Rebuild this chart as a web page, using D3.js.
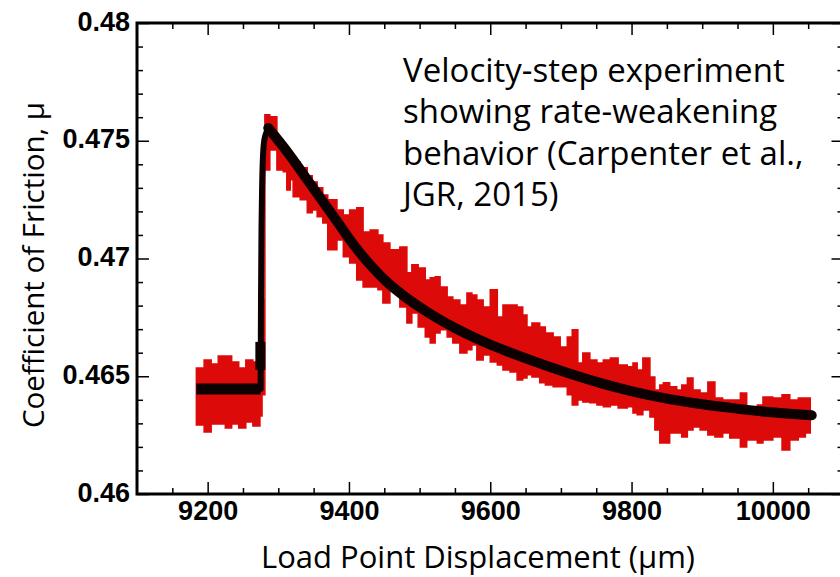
<!DOCTYPE html>
<html>
<head>
<meta charset="utf-8">
<script src="https://cdn.jsdelivr.net/npm/d3@7"></script>
<style>
  body { margin: 0; background: #fff; }
  svg { display: block; }
</style>
</head>
<body>
<svg></svg>
<script>
const width = 840;
const height = 577;
const frame = { left: 137, top: 23, bottom: 494, right: 843.5 };

// measured friction (red), sampled as upper / lower envelope of the noisy record
const redX = [
  9184, 9195, 9205, 9215, 9225, 9234, 9244, 9254, 9264, 9274,
  9277, 9281, 9288, 9298, 9307, 9312, 9317, 9321, 9331, 9341,
  9348, 9355, 9363, 9370, 9383, 9392, 9401, 9411, 9420, 9430,
  9441, 9448, 9458, 9472, 9482, 9489, 9498, 9508, 9515, 9522,
  9529, 9539, 9547, 9557, 9567, 9574, 9581, 9590, 9600, 9610,
  9618, 9628, 9638, 9646, 9652, 9659, 9670, 9678, 9689, 9699,
  9709, 9716, 9724, 9731, 9741, 9751, 9760, 9770, 9781, 9794,
  9802, 9808, 9816, 9826, 9833, 9840, 9845, 9854, 9864, 9871,
  9879, 9887, 9897, 9908, 9918, 9929, 9939, 9954, 9963, 9978,
  9986, 10000, 10013, 10024, 10036, 10046, 10053
];
const redHi = [
  0.46535, 0.46569, 0.46552, 0.46586, 0.46586, 0.46561, 0.46535, 0.46569, 0.46561, 0.46561,
  0.46824, 0.47610, 0.47602, 0.47504, 0.47461, 0.47440, 0.47427, 0.47410, 0.47385, 0.47351,
  0.47325, 0.47300, 0.47270, 0.47249, 0.47206, 0.47185, 0.47206, 0.47215, 0.47113, 0.47121,
  0.47100, 0.47066, 0.47037, 0.47049, 0.46939, 0.46973, 0.46960, 0.46909, 0.46918, 0.46922,
  0.46879, 0.46837, 0.46824, 0.46803, 0.46854, 0.46845, 0.46824, 0.46794, 0.46867, 0.46752,
  0.46803, 0.46803, 0.46794, 0.46760, 0.46709, 0.46726, 0.46709, 0.46684, 0.46667, 0.46624,
  0.46667, 0.46697, 0.46556, 0.46599, 0.46569, 0.46556, 0.46569, 0.46578, 0.46548, 0.46540,
  0.46556, 0.46527, 0.46578, 0.46497, 0.46442, 0.46463, 0.46472, 0.46455, 0.46442, 0.46463,
  0.46493, 0.46442, 0.46429, 0.46476, 0.46408, 0.46399, 0.46399, 0.46429, 0.46357, 0.46378,
  0.46412, 0.46408, 0.46421, 0.46399, 0.46408, 0.46408, 0.46357
];
const redLo = [
  0.46293, 0.46263, 0.46297, 0.46297, 0.46280, 0.46297, 0.46280, 0.46306, 0.46289, 0.46331,
  0.46421, 0.47376, 0.47461, 0.47376, 0.47368, 0.47291, 0.47334, 0.47262, 0.47249, 0.47194,
  0.47206, 0.47177, 0.47151, 0.47037, 0.47079, 0.47007, 0.46981, 0.46909, 0.46879, 0.46879,
  0.46867, 0.46811, 0.46867, 0.46794, 0.46726, 0.46769, 0.46709, 0.46667, 0.46641, 0.46684,
  0.46697, 0.46667, 0.46641, 0.46599, 0.46612, 0.46633, 0.46569, 0.46590, 0.46561, 0.46548,
  0.46527, 0.46518, 0.46484, 0.46493, 0.46506, 0.46497, 0.46472, 0.46463, 0.46455, 0.46455,
  0.46421, 0.46378, 0.46399, 0.46391, 0.46387, 0.46378, 0.46370, 0.46378, 0.46365, 0.46370,
  0.46344, 0.46336, 0.46357, 0.46327, 0.46272, 0.46217, 0.46217, 0.46259, 0.46259, 0.46242,
  0.46272, 0.46285, 0.46272, 0.46251, 0.46242, 0.46259, 0.46238, 0.46200, 0.46229, 0.46217,
  0.46229, 0.46242, 0.46187, 0.46229, 0.46242, 0.46259, 0.46272
];

// rate-state model fit (black), in three pieces
const fitFlatX = [9184, 9275];
const fitFlatY = [0.46446, 0.46446];
const fitRiseX = [9275, 9275.5, 9276.2, 9277, 9278.8, 9281.2, 9285.8];
const fitRiseY = [0.46446, 0.46824, 0.47121, 0.47291, 0.47461, 0.47517, 0.47554];
const fitDecayX = [9285.8, 9314.2, 9337.8, 9361.4, 9384.9, 9408.6, 9432.2, 9455.7, 9479.3, 9503,
  9526.5, 9550, 9573.7, 9597.3, 9621, 9644.5, 9708.6, 9755.3, 9797.8, 9844.5, 9892.6, 9939.3, 9986.1, 10055];
const fitDecayY = [0.47554, 0.47447, 0.47348, 0.47249, 0.47150, 0.47051, 0.46966, 0.46895, 0.46838, 0.46788,
  0.46744, 0.46705, 0.46670, 0.46638, 0.46609, 0.46582, 0.46515, 0.46472, 0.46438, 0.46408, 0.46384, 0.46366, 0.46350, 0.46334];
// short thick piece at the step
const fitStepX = [9274.6, 9274.6];
const fitStepY = [0.46527, 0.46646];

const xTickValues = [9200, 9400, 9600, 9800, 10000];
const yTickValues = [0.46, 0.465, 0.47, 0.475, 0.48];
const annotationLines = [
  "Velocity-step experiment",
  "showing rate-weakening",
  "behavior (Carpenter et al.,",
  "JGR, 2015)"
];

const svg = d3.select("svg").attr("width", width).attr("height", height);

const x = d3.scaleLinear().domain([9100, 10100]).range([frame.left, frame.right]);
const y = d3.scaleLinear().domain([0.46, 0.48]).range([frame.bottom, frame.top]);

const zip = (xs, ys) => xs.map((v, i) => [v, ys[i]]);

// red measured data
const redData = redX.map((v, i) => ({ x: v, hi: redHi[i], lo: redLo[i] }));
const area = d3.area()
  .curve(d3.curveStepAfter)
  .x((d) => x(d.x))
  .y0((d) => y(d.lo))
  .y1((d) => y(d.hi));

svg.append("path")
  .datum(redData)
  .attr("d", area)
  .attr("fill", "#dd0a0a")
  .attr("stroke", "#dd0a0a")
  .attr("stroke-width", 1.5)
  .attr("stroke-linejoin", "miter");

// black fit
const line = d3.line().x((d) => x(d[0])).y((d) => y(d[1]));
const fitColor = "#0c0000";

svg.append("path")
  .attr("d", line(zip(fitFlatX, fitFlatY)))
  .attr("fill", "none").attr("stroke", fitColor).attr("stroke-width", 11);

svg.append("path")
  .attr("d", line.curve(d3.curveMonotoneY)(zip(fitRiseX, fitRiseY)))
  .attr("fill", "none").attr("stroke", fitColor).attr("stroke-width", 6)
  .attr("stroke-linecap", "round");

svg.append("path")
  .attr("d", line.curve(d3.curveLinear)(zip(fitStepX, fitStepY)))
  .attr("fill", "none").attr("stroke", fitColor).attr("stroke-width", 10);

svg.append("path")
  .attr("d", line.curve(d3.curveMonotoneX)(zip(fitDecayX, fitDecayY)))
  .attr("fill", "none").attr("stroke", fitColor).attr("stroke-width", 10)
  .attr("stroke-linecap", "round").attr("stroke-linejoin", "round");

// axes: ticks pointing inward on all four sides
const xMinor = d3.range(9150, 10100, 50).filter((v) => v % 200 !== 0);
const yMinor = d3.range(461, 480).filter((v) => v % 5 !== 0).map((v) => v / 1000);

function styleAxis(g) {
  g.select(".domain").remove();
  g.selectAll(".tick line").attr("stroke", "#000").attr("stroke-width", 1.5);
  g.selectAll(".tick text")
    .attr("fill", "#000")
    .style("font-family", "'Liberation Sans', Arial, sans-serif")
    .style("font-weight", "bold")
    .style("font-size", "27px");
}

svg.append("g")
  .attr("transform", `translate(0,${frame.bottom})`)
  .call(d3.axisBottom(x).tickValues(xTickValues).tickSize(-12).tickPadding(7)
    .tickFormat(d3.format("d")))
  .call(styleAxis);
svg.append("g")
  .attr("transform", `translate(0,${frame.bottom})`)
  .call(d3.axisBottom(x).tickValues(xMinor).tickSize(-6).tickFormat(""))
  .call(styleAxis);
svg.append("g")
  .attr("transform", `translate(0,${frame.top})`)
  .call(d3.axisTop(x).tickValues(xTickValues).tickSize(-12).tickFormat(""))
  .call(styleAxis);
svg.append("g")
  .attr("transform", `translate(0,${frame.top})`)
  .call(d3.axisTop(x).tickValues(xMinor).tickSize(-6).tickFormat(""))
  .call(styleAxis);

svg.append("g")
  .attr("transform", `translate(${frame.left},0)`)
  .call(d3.axisLeft(y).tickValues(yTickValues).tickSize(-12).tickPadding(7)
    .tickFormat(d3.format("")))
  .call(styleAxis)
  .selectAll(".tick text").attr("dy", "0.26em");
svg.append("g")
  .attr("transform", `translate(${frame.left},0)`)
  .call(d3.axisLeft(y).tickValues(yMinor).tickSize(-6).tickFormat(""))
  .call(styleAxis);
svg.append("g")
  .attr("transform", `translate(${frame.right},0)`)
  .call(d3.axisRight(y).tickValues(yTickValues).tickSize(-12).tickFormat(""))
  .call(styleAxis);
svg.append("g")
  .attr("transform", `translate(${frame.right},0)`)
  .call(d3.axisRight(y).tickValues(yMinor).tickSize(-6).tickFormat(""))
  .call(styleAxis);

// frame
svg.append("rect")
  .attr("x", frame.left)
  .attr("y", frame.top)
  .attr("width", frame.right - frame.left)
  .attr("height", frame.bottom - frame.top)
  .attr("fill", "none")
  .attr("stroke", "#000")
  .attr("stroke-width", 3);

// axis titles
const titleFont = "'Open Sans', 'Noto Sans', sans-serif";
svg.append("text")
  .attr("x", 478)
  .attr("y", 568)
  .attr("text-anchor", "middle")
  .style("font-family", titleFont)
  .style("font-size", "31px")
  .text("Load Point Displacement (μm)");

svg.append("text")
  .attr("transform", "translate(44,265) rotate(-90)")
  .attr("text-anchor", "middle")
  .style("font-family", titleFont)
  .style("font-size", "29.5px")
  .text("Coefficient of Friction, μ");

// annotation
svg.append("g")
  .selectAll("text")
  .data(annotationLines)
  .join("text")
  .attr("x", 403)
  .attr("y", (d, i) => 82 + i * 41.3)
  .style("font-family", titleFont)
  .style("font-size", "33px")
  .text((d) => d);
</script>
</body>
</html>
